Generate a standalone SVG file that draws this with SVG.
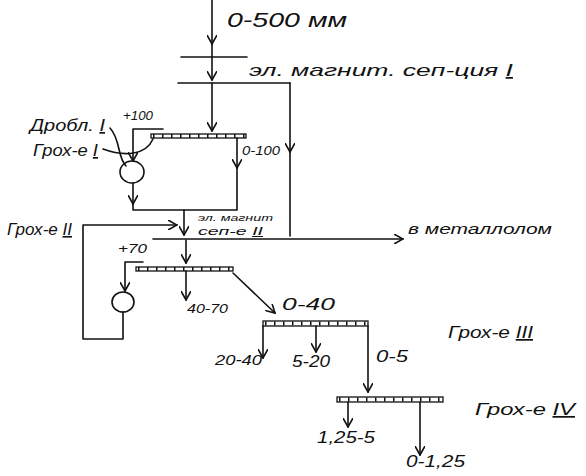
<svg xmlns="http://www.w3.org/2000/svg" width="586" height="476" viewBox="0 0 586 476">
<style>
text{font-family:"Liberation Sans","DejaVu Sans",sans-serif;font-style:italic;fill:#111}
.ln{fill:none;stroke:#111;stroke-width:1.6;stroke-linecap:round;stroke-linejoin:round}
.bar{fill:#fff;stroke:#111;stroke-width:1.3}
.tick{stroke:#111;stroke-width:4;stroke-dasharray:1.5 7.5}
.cr{fill:none;stroke:#111;stroke-width:1.6}
.u{text-decoration:underline}
</style>
<defs>
<marker id="arr" viewBox="0 0 10 10" refX="9" refY="5" markerWidth="10" markerHeight="10" markerUnits="userSpaceOnUse" orient="auto">
<path d="M0,0 L9,5 L0,10" fill="none" stroke="#111" stroke-width="1.6"/>
</marker>
</defs>
<rect width="586" height="476" fill="#fff"/>

<g id="feed">
<text x="227" y="27" font-size="21" textLength="120" lengthAdjust="spacingAndGlyphs">0-500 мм</text>
</g>

<g id="sep1">
<path class="ln" d="M181,57 H247 M178,83 H290"/>
<text x="249" y="76" font-size="17" textLength="264" lengthAdjust="spacingAndGlyphs">эл. магнит. сеп-ция <tspan class="u">I</tspan></text>
</g>

<g id="screen1">
<rect class="bar" x="151" y="134" width="95" height="4"/>
<line class="tick" x1="153" y1="136" x2="245" y2="136" stroke-width="3"/>
<text x="30" y="131" font-size="17" textLength="75" lengthAdjust="spacingAndGlyphs">Дробл. <tspan class="u">I</tspan></text>
<text x="33" y="156" font-size="17" textLength="65" lengthAdjust="spacingAndGlyphs">Грох-е <tspan class="u">I</tspan></text>
<text x="123" y="120" font-size="13" textLength="30" lengthAdjust="spacingAndGlyphs">+100</text>
<text x="242" y="155" font-size="12" textLength="38" lengthAdjust="spacingAndGlyphs">0-100</text>
</g>

<g id="crusher1">
<ellipse class="cr" cx="132" cy="172" rx="12" ry="11"/>
</g>

<g id="sep2">
<text x="198" y="221" font-size="9" textLength="75" lengthAdjust="spacingAndGlyphs">эл. магнит</text>
<text x="198" y="235" font-size="10" textLength="65" lengthAdjust="spacingAndGlyphs">сеп-е <tspan class="u">II</tspan></text>
<text x="7" y="235" font-size="16" textLength="65" lengthAdjust="spacingAndGlyphs">Грох-е <tspan class="u">II</tspan></text>
</g>

<g id="scrap">
<text x="408" y="234" font-size="15" textLength="144" lengthAdjust="spacingAndGlyphs">в металлолом</text>
</g>

<g id="screen2">
<rect class="bar" x="136" y="267" width="97" height="4"/>
<line class="tick" x1="138" y1="269" x2="232" y2="269" stroke-width="3"/>
<text x="118" y="253" font-size="13" textLength="29" lengthAdjust="spacingAndGlyphs">+70</text>
<text x="187" y="313" font-size="12" textLength="41" lengthAdjust="spacingAndGlyphs">40-70</text>
</g>

<g id="crusher2">
<ellipse class="cr" cx="123" cy="302" rx="11" ry="10"/>
</g>

<g id="screen3">
<rect class="bar" x="263" y="321" width="105" height="5"/>
<line class="tick" x1="265" y1="323.5" x2="367" y2="323.5"/>
<text x="282" y="310" font-size="17" textLength="53" lengthAdjust="spacingAndGlyphs">0-40</text>
<text x="215" y="365" font-size="14" textLength="47" lengthAdjust="spacingAndGlyphs">20-40</text>
<text x="292" y="367" font-size="16" textLength="38" lengthAdjust="spacingAndGlyphs">5-20</text>
<text x="376" y="362" font-size="17" textLength="32" lengthAdjust="spacingAndGlyphs">0-5</text>
<text x="448" y="338" font-size="17" textLength="85" lengthAdjust="spacingAndGlyphs">Грох-е <tspan class="u">III</tspan></text>
</g>

<g id="screen4">
<rect class="bar" x="337" y="397" width="106" height="5"/>
<line class="tick" x1="339" y1="399.5" x2="442" y2="399.5"/>
<text x="317" y="443" font-size="17" textLength="58" lengthAdjust="spacingAndGlyphs">1,25-5</text>
<text x="406" y="467" font-size="17" textLength="59" lengthAdjust="spacingAndGlyphs">0-1,25</text>
<text x="475" y="415" font-size="17" textLength="100" lengthAdjust="spacingAndGlyphs">Грох-е <tspan class="u">IV</tspan></text>
</g>

<g id="connectors">
<path class="ln" d="M212,0 V44" marker-end="url(#arr)"/>
<path class="ln" d="M212,44 V57"/>
<path class="ln" d="M212,57 V80" marker-end="url(#arr)"/>
<path class="ln" d="M212,83 V131" marker-end="url(#arr)"/>
<path class="ln" d="M290,83 V152" marker-end="url(#arr)"/>
<path class="ln" d="M290,152 V236"/>
<path class="ln" d="M163,129 H133 V161" marker-end="url(#arr)"/>
<path class="ln" d="M133,183 V204" marker-end="url(#arr)"/>
<path class="ln" d="M133,204 V210 H237 V168"/>
<path class="ln" d="M237,138 V168" marker-end="url(#arr)"/>
<path class="ln" d="M110,128 C121,140 117,157 126,166"/>
<path class="ln" d="M103,149 C125,157 146,155 153,139"/>
<path class="ln" d="M184,210 V235" marker-end="url(#arr)"/>
<path class="ln" d="M123,312 V339 H83 V225 H177" marker-end="url(#arr)"/>
<path class="ln" d="M153,239 H403" marker-end="url(#arr)"/>
<path class="ln" d="M186,240 V263" marker-end="url(#arr)"/>
<path class="ln" d="M143,262 H125 V291" marker-end="url(#arr)"/>
<path class="ln" d="M186,271 V300" marker-end="url(#arr)"/>
<path class="ln" d="M233,273 L275,313" marker-end="url(#arr)"/>
<path class="ln" d="M263,326 V358" marker-end="url(#arr)"/>
<path class="ln" d="M316,326 V352" marker-end="url(#arr)"/>
<path class="ln" d="M368,326 V392" marker-end="url(#arr)"/>
<path class="ln" d="M348,402 V427" marker-end="url(#arr)"/>
<path class="ln" d="M420,402 V455" marker-end="url(#arr)"/>
</g>
</svg>
